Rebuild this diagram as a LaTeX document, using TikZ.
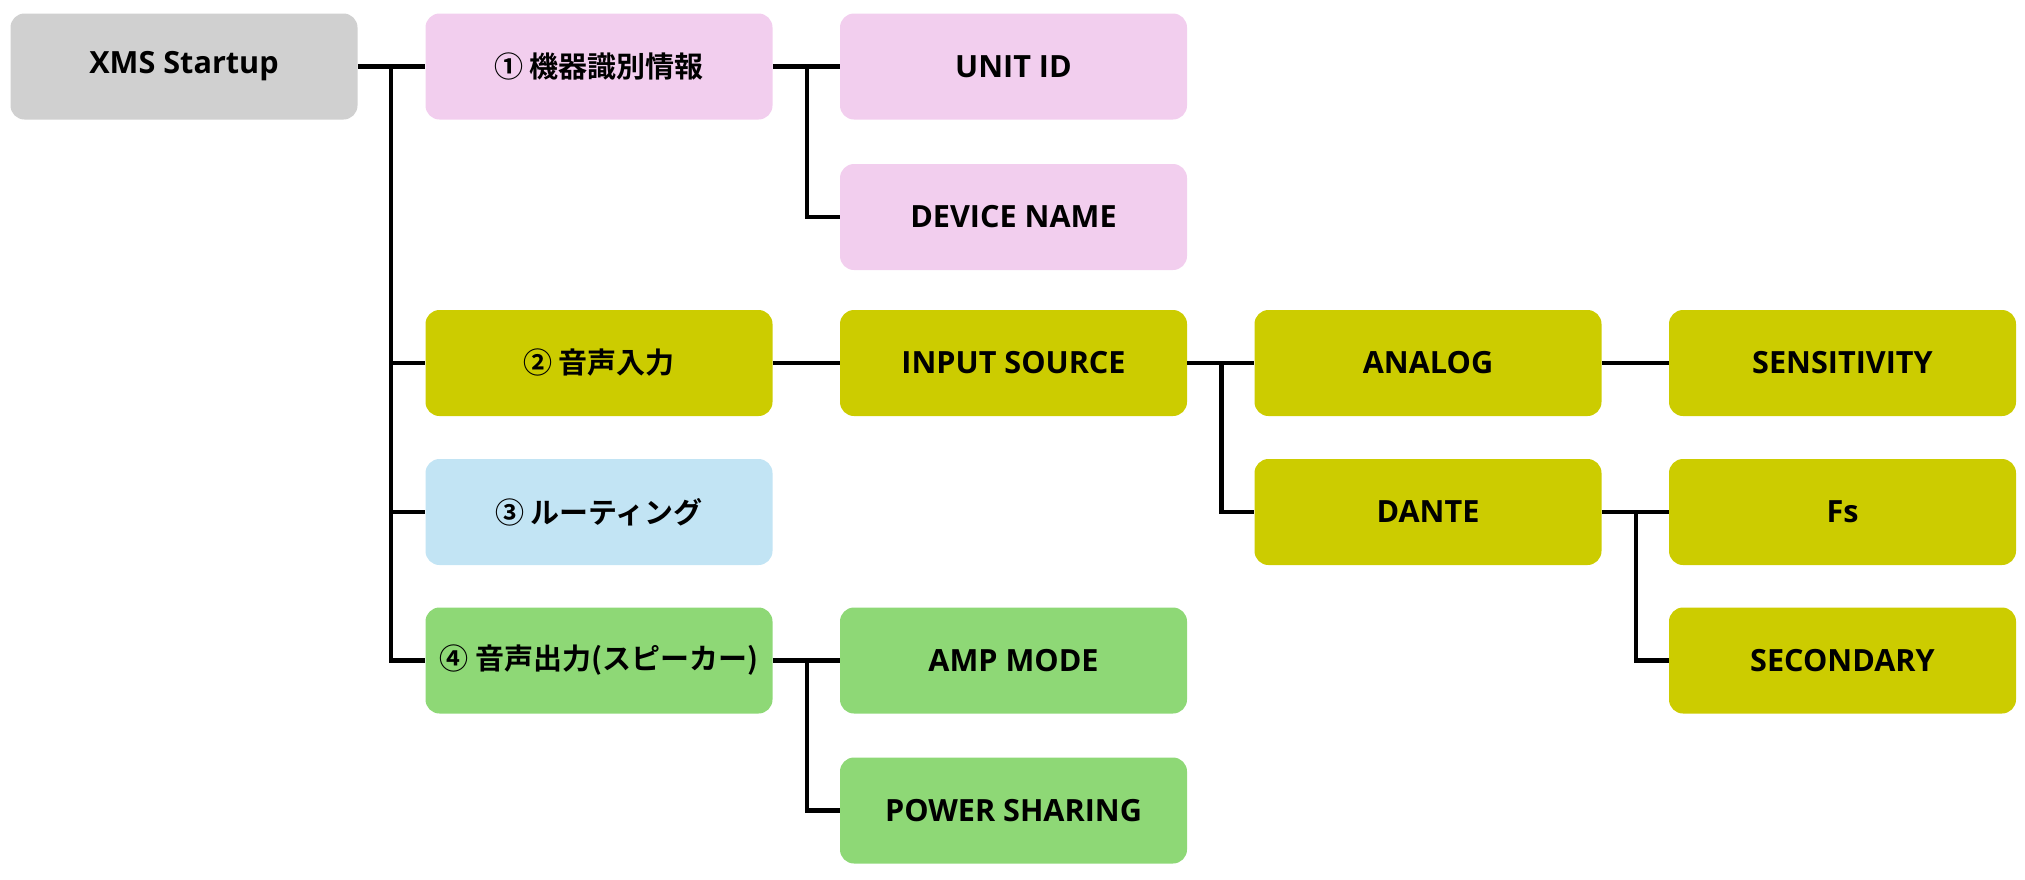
\documentclass[tikz,border=0pt]{standalone}
\usepackage{fontspec}
\setmainfont{Open Sans}
\newfontfamily\jp{Noto Sans CJK JP}[BoldFont={Noto Sans CJK JP Bold}]
\definecolor{cgray}{RGB}{208,208,208}
\definecolor{cpink}{RGB}{242,206,238}
\definecolor{colive}{RGB}{204,204,0}
\definecolor{cblue}{RGB}{194,228,244}
\definecolor{cgreen}{RGB}{142,216,118}
\tikzset{
  box/.style={rounded corners=7pt, minimum width=173.5pt, minimum height=53pt,
    inner sep=0pt, font=\fontsize{15.3pt}{18pt}\selectfont\bfseries, text=black},
  jbox/.style={box, font=\fontsize{14.5pt}{17pt}\selectfont\jp\bfseries},
  link/.style={line width=2.2pt, line join=miter, black}
}
\begin{document}
\begin{tikzpicture}[x=0.5pt, y=-0.5pt]
\useasboundingbox (0,0) rectangle (2025,879);
\node[box, fill=cgray]  (xms) at (184,66.5) {XMS Startup};
\node[jbox, fill=cpink] (c1) at (599,66.5) {① 機器識別情報};
\node[jbox, fill=colive] (c2) at (599,363) {② 音声入力};
\node[jbox, fill=cblue] (c3) at (599,512) {③ ルーティング};
\node[jbox, fill=cgreen] (c4) at (599,660.5) {④ 音声出力(スピーカー)};
\node[box, fill=cpink] (uid) at (1013.5,66.5) {UNIT ID};
\node[box, fill=cpink] (dev) at (1013.5,217) {DEVICE NAME};
\node[box, fill=colive] (ins) at (1013.5,363) {INPUT SOURCE};
\node[box, fill=cgreen] (amp) at (1013.5,660.5) {AMP MODE};
\node[box, fill=cgreen] (pow) at (1013.5,810.5) {POWER SHARING};
\node[box, fill=colive] (ana) at (1428,363) {ANALOG};
\node[box, fill=colive] (dan) at (1428,512) {DANTE};
\node[box, fill=colive] (sen) at (1842.5,363) {SENSITIVITY};
\node[box, fill=colive] (fs) at (1842.5,512) {Fs};
\node[box, fill=colive] (sec) at (1842.5,660.5) {SECONDARY};
% connectors
\draw[link] (xms.east) -- (c1.west);
\draw[link] ([xshift=16.5pt]xms.east) |- (c4.west);
\draw[link] ([xshift=16.5pt]xms.east |- c2.west) -- (c2.west);
\draw[link] ([xshift=16.5pt]xms.east |- c3.west) -- (c3.west);
\draw[link] (c1.east) -- (uid.west);
\draw[link] ([xshift=17pt]c1.east) |- (dev.west);
\draw[link] (c2.east) -- (ins.west);
\draw[link] (c4.east) -- (amp.west);
\draw[link] ([xshift=17pt]c4.east) |- (pow.west);
\draw[link] (ins.east) -- (ana.west);
\draw[link] ([xshift=17pt]ins.east) |- (dan.west);
\draw[link] (ana.east) -- (sen.west);
\draw[link] (dan.east) -- (fs.west);
\draw[link] ([xshift=17pt]dan.east) |- (sec.west);
\end{tikzpicture}
\end{document}
